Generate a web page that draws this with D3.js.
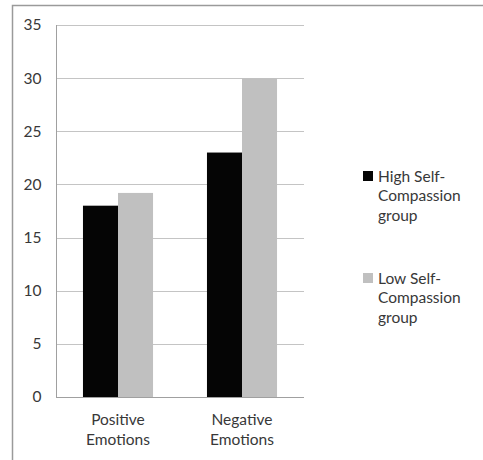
<!DOCTYPE html>
<html>
<head>
<meta charset="utf-8">
<script src="https://cdn.jsdelivr.net/npm/d3@7"></script>
<style>
  html, body { margin: 0; padding: 0; background: #fff; }
  svg { display: block; }
  text { font-family: Lato, "Open Sans", sans-serif; fill: #383838; }
</style>
</head>
<body>
<svg id="chart" width="483" height="460"></svg>
<script>
// Emotion scores by self-compassion group
const categories = [["Positive", "Emotions"], ["Negative", "Emotions"]];
const seriesNames = [["High Self-", "Compassion", "group"], ["Low Self-", "Compassion", "group"]];
const highSelfCompassion = [18, 23];
const lowSelfCompassion = [19.2, 30];
const yTicks = [0, 5, 10, 15, 20, 25, 30, 35];
const colors = ["#050505", "#c0c0c0"];

const series = [highSelfCompassion, lowSelfCompassion];

const svg = d3.select("#chart");

// Outer frame (chart area border)
svg.append("rect")
  .attr("x", 12.5).attr("y", 5.5)
  .attr("width", 600).attr("height", 600)
  .attr("fill", "none").attr("stroke", "#9a9a9a").attr("stroke-width", 1.5);

const plot = { left: 56, right: 304, top: 25, bottom: 397 };

const x0 = d3.scaleBand()
  .domain(d3.range(categories.length))
  .range([plot.left, plot.right])
  .paddingInner(0.435)
  .paddingOuter(0.2175);

const x1 = d3.scaleBand()
  .domain(d3.range(series.length))
  .range([0, x0.bandwidth()]);

const y = d3.scaleLinear().domain([0, 35]).range([plot.bottom, plot.top]);

// Gridlines
svg.append("g")
  .selectAll("line")
  .data(yTicks.filter(t => t > 0))
  .join("line")
  .attr("x1", plot.left).attr("x2", plot.right)
  .attr("y1", d => Math.round(y(d)) + 0.5)
  .attr("y2", d => Math.round(y(d)) + 0.5)
  .attr("stroke", "#c4c4c4").attr("stroke-width", 1);

// Bars
const groups = svg.append("g")
  .selectAll("g")
  .data(categories.map((c, i) => i))
  .join("g")
  .attr("transform", i => `translate(${x0(i)},0)`);

groups.selectAll("rect")
  .data(i => series.map((s, k) => ({ k, v: s[i] })))
  .join("rect")
  .attr("x", d => x1(d.k))
  .attr("width", x1.bandwidth())
  .attr("y", d => y(d.v))
  .attr("height", d => y(0) - y(d.v))
  .attr("fill", d => colors[d.k]);

// Y axis
const yAxis = svg.append("g")
  .attr("transform", `translate(${plot.left + 0.5},0)`)
  .call(d3.axisLeft(y).tickValues(yTicks).tickSize(0).tickPadding(15).tickFormat(d3.format("d")));
yAxis.select(".domain").attr("stroke", "#a0a0a0").attr("d", `M0,${plot.top}V${plot.bottom}`);
yAxis.selectAll("text").style("font-size", "15.5px").attr("fill", "#383838");

// X axis baseline
svg.append("line")
  .attr("x1", plot.left).attr("x2", plot.right)
  .attr("y1", plot.bottom + 0.5).attr("y2", plot.bottom + 0.5)
  .attr("stroke", "#a0a0a0");

// Category labels
const xLabels = svg.append("g")
  .selectAll("text")
  .data(categories)
  .join("text")
  .attr("x", (d, i) => x0(i) + x0.bandwidth() / 2)
  .attr("y", 424.5)
  .attr("text-anchor", "middle")
  .style("font-size", "15.5px");
xLabels.selectAll("tspan")
  .data(d => d)
  .join("tspan")
  .attr("x", function () { return this.parentNode.getAttribute("x"); })
  .attr("dy", (d, j) => j === 0 ? 0 : 20)
  .text(d => d);

// Legend
const legendTops = [171, 273];
const legend = svg.append("g")
  .selectAll("g")
  .data(seriesNames)
  .join("g")
  .attr("transform", (d, i) => `translate(363,${legendTops[i]})`);
legend.append("rect")
  .attr("width", 10).attr("height", 10)
  .attr("fill", (d, i) => colors[i]);
const lt = legend.append("text")
  .attr("x", 15).attr("y", 10.5)
  .style("font-size", "15.5px");
lt.selectAll("tspan")
  .data(d => d)
  .join("tspan")
  .attr("x", 15)
  .attr("dy", (d, j) => j === 0 ? 0 : 19.7)
  .text(d => d);
</script>
</body>
</html>
